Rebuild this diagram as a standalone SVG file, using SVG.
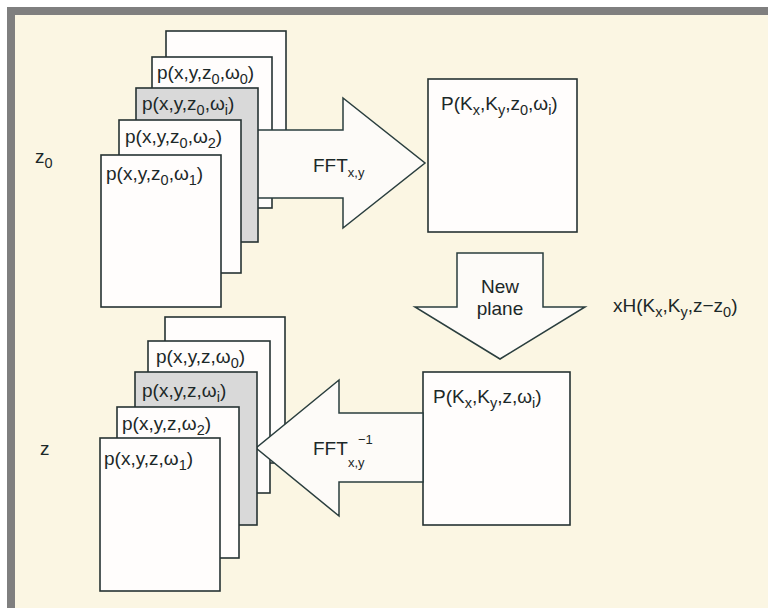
<svg xmlns="http://www.w3.org/2000/svg" width="768" height="608" viewBox="0 0 768 608">
<style>
text{font-family:"Liberation Sans",Arial,sans-serif;font-size:19px;fill:#1c2828}
.sub{font-size:14.5px}
.ss{font-size:13px}
.pg{fill:#fffdfc;stroke:#263232;stroke-width:1.6}
.pgg{fill:#d9d9d9;stroke:#263232;stroke-width:1.6}
.arr{fill:#fdfbf8;stroke:#2a3e3e;stroke-width:1.5;stroke-linejoin:miter}
</style>
<rect x="0" y="0" width="768" height="608" fill="#ffffff"/>
<rect x="7" y="7" width="761" height="601" fill="#fbf6e3"/>
<rect x="7" y="7" width="761" height="8" fill="#7f7f7f"/>
<rect x="7" y="7" width="8" height="601" fill="#7f7f7f"/>

<text x="35" y="163">z<tspan class="sub" dy="5">0</tspan></text>
<text x="40" y="455">z</text>

<g id="top-stack">
<rect class="pg" x="166" y="31" width="120" height="152"/>
<g id="top-w0"><rect class="pg" x="152" y="57" width="120" height="151"/>
<text x="157" y="79">p(x,y,z<tspan class="sub" dy="5">0</tspan><tspan dy="-5">,ω</tspan><tspan class="sub" dy="5">0</tspan><tspan dy="-5">)</tspan></text></g>
</g>

<g id="connectors-top">
<polygon class="arr" points="250,130 343,130 343,98 425,163 343,228 343,198 250,198"/>
<text x="313" y="172">FFT<tspan class="ss" dy="5">x,y</tspan></text>
</g>

<g id="top-wi"><rect class="pgg" x="136" y="88" width="122" height="154"/>
<text x="142" y="110">p(x,y,z<tspan class="sub" dy="5">0</tspan><tspan dy="-5">,ω</tspan><tspan class="sub" dy="5">i</tspan><tspan dy="-5">)</tspan></text></g>
<g id="top-w2"><rect class="pg" x="119" y="120" width="122" height="153"/>
<text x="125" y="143">p(x,y,z<tspan class="sub" dy="5">0</tspan><tspan dy="-5">,ω</tspan><tspan class="sub" dy="5">2</tspan><tspan dy="-5">)</tspan></text></g>
<g id="top-w1"><rect class="pg" x="101" y="155" width="120" height="152"/>
<text x="106" y="180">p(x,y,z<tspan class="sub" dy="5">0</tspan><tspan dy="-5">,ω</tspan><tspan class="sub" dy="5">1</tspan><tspan dy="-5">)</tspan></text></g>

<g id="P-top"><rect class="pg" x="428" y="79" width="149" height="153"/>
<text x="441" y="110">P(K<tspan class="sub" dy="5">x</tspan><tspan dy="-5">,K</tspan><tspan class="sub" dy="5">y</tspan><tspan dy="-5">,z</tspan><tspan class="sub" dy="5">0</tspan><tspan dy="-5">,ω</tspan><tspan class="sub" dy="5">i</tspan><tspan dy="-5">)</tspan></text></g>

<g id="connectors">
<polygon class="arr" points="457,253 543,253 543,307 585,307 500,359 415,307 457,307"/>
<text x="500" y="293" text-anchor="middle">New</text>
<text x="500" y="315" text-anchor="middle">plane</text>
</g>
<text x="613" y="312">xH(K<tspan class="sub" dy="5">x</tspan><tspan dy="-5">,K</tspan><tspan class="sub" dy="5">y</tspan><tspan dy="-5">,z−z</tspan><tspan class="sub" dy="5">0</tspan><tspan dy="-5">)</tspan></text>

<g id="P-bottom"><rect class="pg" x="423" y="372" width="147" height="153"/>
<text x="433" y="403">P(K<tspan class="sub" dy="5">x</tspan><tspan dy="-5">,K</tspan><tspan class="sub" dy="5">y</tspan><tspan dy="-5">,z,ω</tspan><tspan class="sub" dy="5">i</tspan><tspan dy="-5">)</tspan></text></g>

<g id="bottom-stack">
<rect class="pg" x="165" y="317" width="120" height="146"/>
<g id="bot-w0"><rect class="pg" x="148" y="341" width="122" height="152"/>
<text x="156" y="363">p(x,y,z,ω<tspan class="sub" dy="5">0</tspan><tspan dy="-5">)</tspan></text></g>
</g>

<g id="connectors-bottom">
<polygon class="arr" points="423,413 339,413 339,380 256,448 339,516 339,482 423,482"/>
<text x="313" y="455">FFT</text>
<text x="358" y="444" class="ss">−1</text>
<text x="348" y="467" class="ss">x,y</text>
</g>

<g id="bot-wi"><rect class="pgg" x="135" y="372" width="122" height="153"/>
<text x="142" y="397">p(x,y,z,ω<tspan class="sub" dy="5">i</tspan><tspan dy="-5">)</tspan></text></g>
<g id="bot-w2"><rect class="pg" x="117" y="407" width="122" height="151"/>
<text x="122" y="430">p(x,y,z,ω<tspan class="sub" dy="5">2</tspan><tspan dy="-5">)</tspan></text></g>
<g id="bot-w1"><rect class="pg" x="100" y="438" width="120" height="153"/>
<text x="104" y="465">p(x,y,z,ω<tspan class="sub" dy="5">1</tspan><tspan dy="-5">)</tspan></text></g>
</svg>
